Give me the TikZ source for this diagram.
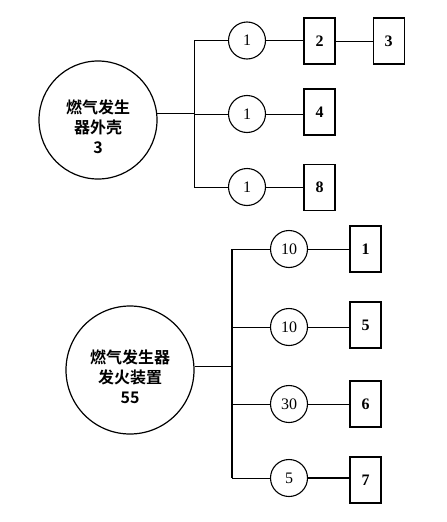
\documentclass[tikz,border=0pt]{standalone}
\usepackage{fontspec}
\setmainfont{Liberation Serif}
\newfontfamily\cjk{Noto Sans CJK SC}[BoldFont={Noto Sans CJK SC Bold}]
\usepackage{tikz}
\usetikzlibrary{positioning}

\tikzset{
	whole/.style={circle,draw,line width=1.2pt,inner sep=0pt},
	wholetext/.style={align=center,inner sep=0pt,font=\cjk\bfseries\fontsize{16}{20}\selectfont},
	count/.style={circle,draw,line width=1.1pt,inner sep=0pt,minimum size=37pt,font=\fontsize{16}{16}\selectfont},
	part/.style={rectangle,draw,line width=1.1pt,minimum width=31pt,minimum height=46pt,font=\bfseries\fontsize{16}{16}\selectfont}
}

\begin{document}
\begin{tikzpicture}[x=1pt,y=-1pt,line width=0.9pt]
		\useasboundingbox (0,0) rectangle (447,522);
		% gas generator shell
		\node[whole,minimum size=118pt] (shell) at (98,120) {};
		\node[wholetext] (shelltext) at ([yshift=-7pt]shell.center) {燃气发生\\器外壳\\3};
		\coordinate (sa) at (194,40.5);
		\coordinate (sb) at (194,114);
		\coordinate (sc) at (194,187);
		\node[count] (c1) at (247,40.5) {1};
		\node[count] (c2) at (247,114)  {1};
		\node[count] (c3) at (247,187)  {1};
		\node[part]  (p2) at (319.5,41)  {2};
		\node[part]  (p3) [right=37pt of p2] {3};
		\node[part]  (p4) at (319.5,112) {4};
		\node[part]  (p8) at (319.5,187.5) {8};
		\draw (shell.6) -- (shell.6 -| sb);
		\draw (sa) -- (sc);
		\path[draw]
			(sa) -- (c1)
			(sb) -- (c2)
			(sc) -- (c3)
			(c1) -- (c1 -| p2.west)
			(c2) -- (c2 -| p4.west)
			(c3) -- (c3 -| p8.west)
			(p2) -- (p3);
		% gas generator igniter
		\node[whole,minimum size=128pt] (fire) at (130,370) {};
		\node[wholetext] (firetext) at ([yshift=-7pt]fire.center) {燃气发生器\\发火装置\\55};
		\coordinate (fa) at (232,249);
		\coordinate (fb) at (232,327);
		\coordinate (fc) at (232,404);
		\coordinate (fd) at (232,478);
		\node[count] (d1) at (289,249) {10};
		\node[count] (d2) at (289,327) {10};
		\node[count] (d3) at (289,404) {30};
		\node[count] (d4) at (289,478) {5};
		\node[part]  (q1) at (365.5,249) {1};
		\node[part]  (q5) at (365.5,325) {5};
		\node[part]  (q6) at (365.5,404) {6};
		\node[part]  (q7) at (365.5,480) {7};
		\draw[line width=1.5pt] (fire.3) -- (fire.3 -| fb);
		\draw[line width=1.3pt] (fa) -- (fd);
		\path[draw]
			(fa) -- (d1)
			(fb) -- (d2)
			(fc) -- (d3)
			(fd) -- (d4)
			(d1) -- (d1 -| q1.west)
			(d2) -- (d2 -| q5.west)
			(d3) -- (d3 -| q6.west);
		\draw[line width=1.3pt] (d4) -- (d4 -| q7.west);
	\end{tikzpicture}
\end{document}
